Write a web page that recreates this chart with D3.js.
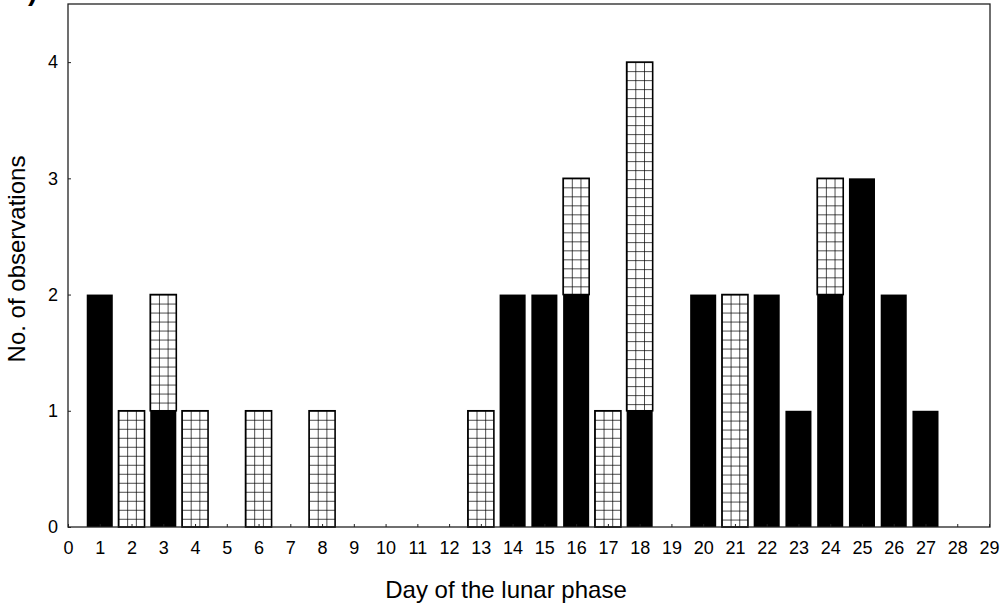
<!DOCTYPE html>
<html>
<head>
<meta charset="utf-8">
<script src="https://cdn.jsdelivr.net/npm/d3@7"></script>
<style>
  html, body { margin: 0; padding: 0; background: #fff; }
  svg { display: block; }
  text { font-family: "Liberation Sans", Arial, sans-serif; fill: #000; }
</style>
</head>
<body>
<svg id="chart" width="1008" height="608"></svg>
<script>
// ---- data ----
const days       = [1,2,3,4,5,6,7,8,9,10,11,12,13,14,15,16,17,18,19,20,21,22,23,24,25,26,27];
const blackVals  = [2,0,1,0,0,0,0,0,0,0,0,0,0,2,2,2,0,1,0,2,0,2,1,2,3,2,1];
const hatchVals  = [0,1,1,1,0,1,0,1,0,0,0,0,1,0,0,1,1,3,0,0,2,0,0,1,0,0,0];
const xTicks     = d3.range(0, 30);
const yTicks     = [0,1,2,3,4];
const xTitle     = "Day of the lunar phase";
const yTitle     = "No. of observations";

// ---- layout ----
const svg = d3.select("#chart");
const pL = 68, pR = 990, pT = 4, pB = 527;

const x = d3.scaleLinear().domain([0, 29]).range([pL, 989]);
const y = d3.scaleLinear().domain([0, 4.5]).range([pB, pT]);
const bw = (x(1) - x(0)) * 0.82;

const rows = days.map((d, i) => ({ day: d, black: blackVals[i], hatch: hatchVals[i] }));

// partial panel label at top-left
svg.append("text").attr("x", 28).attr("y", 0)
  .attr("font-size", 28).attr("font-weight", "bold").text(")");

// hatch patterns (one per hatched bar so the grid aligns with the bar)
const defs = svg.append("defs");
const cell = 9;
rows.filter(r => r.hatch > 0).forEach(r => {
  const p = defs.append("pattern")
    .attr("id", "hatch" + r.day)
    .attr("patternUnits", "userSpaceOnUse")
    .attr("x", x(r.day) - bw / 2)
    .attr("y", y(r.black + r.hatch))
    .attr("width", bw / 3)
    .attr("height", cell);
  p.append("rect").attr("width", bw / 3).attr("height", cell).attr("fill", "#fff");
  p.append("line").attr("x1", 0).attr("x2", 0).attr("y1", 0).attr("y2", cell)
    .attr("stroke", "#000").attr("stroke-width", 1.4);
  p.append("line").attr("x1", 0).attr("x2", bw / 3).attr("y1", 0).attr("y2", 0)
    .attr("stroke", "#000").attr("stroke-width", 1.4);
});

// black segments
svg.append("g").selectAll("rect")
  .data(rows.filter(r => r.black > 0))
  .join("rect")
  .attr("x", r => x(r.day) - bw / 2)
  .attr("y", r => y(r.black))
  .attr("width", bw)
  .attr("height", r => y(0) - y(r.black))
  .attr("fill", "#000");

// hatched segments
svg.append("g").selectAll("rect")
  .data(rows.filter(r => r.hatch > 0))
  .join("rect")
  .attr("x", r => x(r.day) - bw / 2)
  .attr("y", r => y(r.black + r.hatch))
  .attr("width", bw)
  .attr("height", r => y(r.black) - y(r.black + r.hatch))
  .attr("fill", r => "url(#hatch" + r.day + ")")
  .attr("stroke", "#000")
  .attr("stroke-width", 1.6);

// frame
svg.append("rect")
  .attr("x", pL).attr("y", pT)
  .attr("width", pR - pL).attr("height", pB - pT)
  .attr("fill", "none").attr("stroke", "#222").attr("stroke-width", 1.3);

// axes
const yAxis = d3.axisLeft(y).tickValues(yTicks).tickFormat(d3.format("d"))
  .tickSizeInner(-3).tickSizeOuter(0).tickPadding(10);
const gy = svg.append("g").attr("transform", `translate(${pL},0)`).call(yAxis);
gy.select(".domain").remove();
gy.selectAll("text").attr("font-size", 18).style("font-family", '"Liberation Sans", Arial, sans-serif');
gy.selectAll("line").attr("stroke", "#222");

const xAxis = d3.axisBottom(x).tickValues(xTicks).tickFormat(d3.format("d"))
  .tickSizeInner(-3).tickSizeOuter(0).tickPadding(14);
const gx = svg.append("g").attr("transform", `translate(0,${pB})`).call(xAxis);
gx.select(".domain").remove();
gx.selectAll("text").attr("font-size", 18).style("font-family", '"Liberation Sans", Arial, sans-serif');
gx.selectAll("line").attr("stroke", "#222");

// titles
svg.append("text")
  .attr("x", 506).attr("y", 598)
  .attr("text-anchor", "middle")
  .attr("font-size", 24)
  .text(xTitle);

svg.append("text")
  .attr("transform", `translate(25,259) rotate(-90)`)
  .attr("text-anchor", "middle")
  .attr("font-size", 24)
  .text(yTitle);
</script>
</body>
</html>
